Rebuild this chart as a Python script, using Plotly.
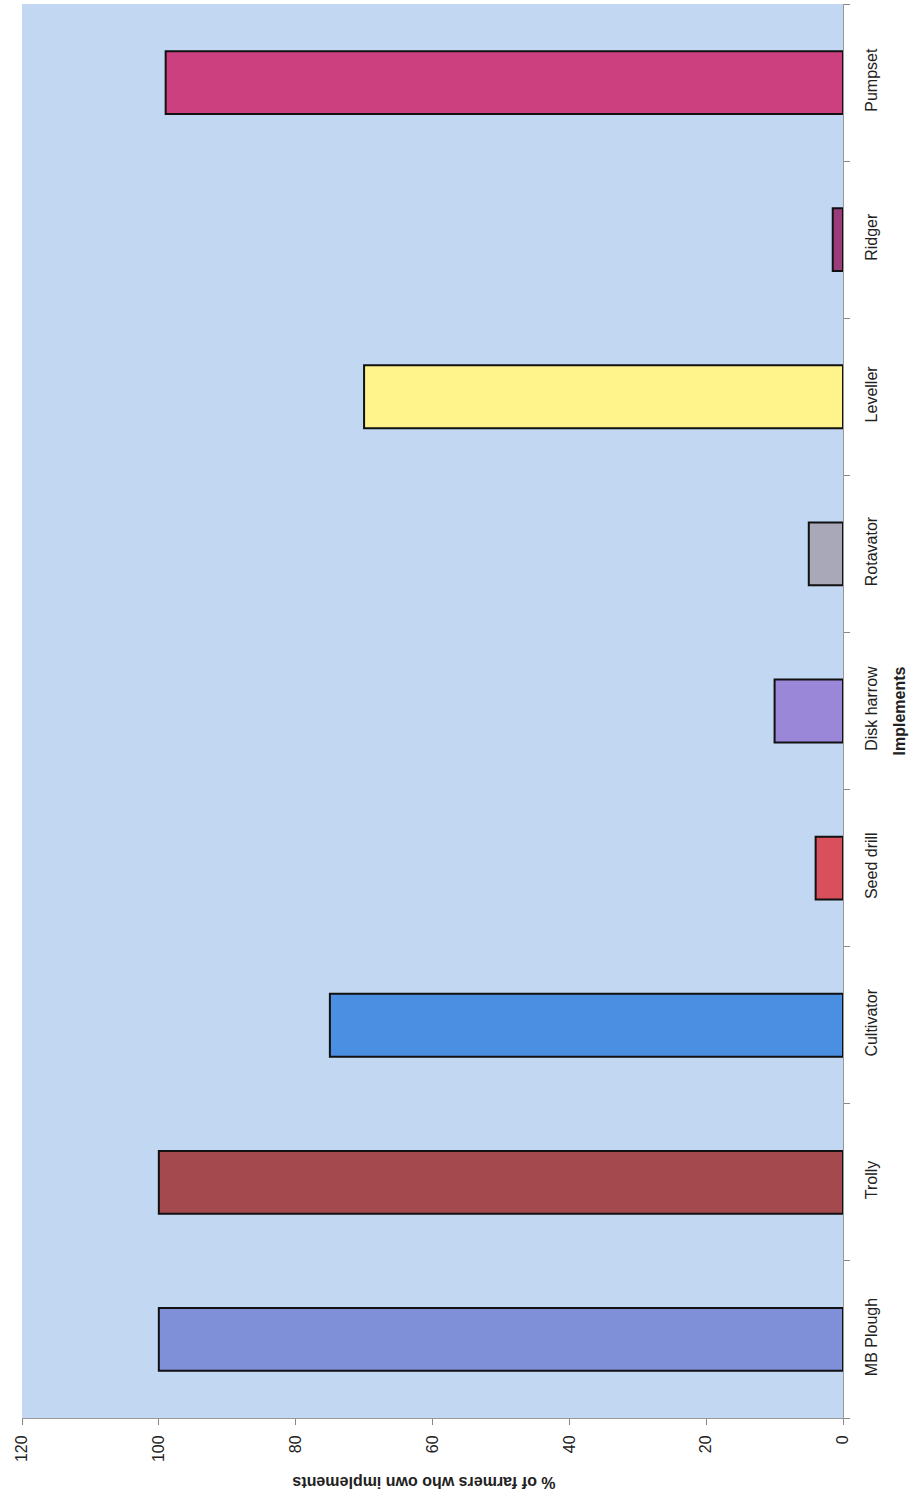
import plotly.graph_objects as go

# Implement ownership among surveyed farmers
implements = ["MB Plough", "Trolly", "Cultivator", "Seed drill", "Disk harrow",
              "Rotavator", "Leveller", "Ridger", "Pumpset"]
pct_owning = [100, 100, 75, 4, 10, 5, 70, 1.5, 99]
bar_colors = ["#7f8fd8", "#a44a4e", "#4a8fe2", "#d9505c", "#9a87d8",
              "#a8a8b8", "#fff38c", "#9a3c7a", "#cd407f"]
value_ticks = [0, 20, 40, 60, 80, 100, 120]

fig = go.Figure(go.Bar(
    y=implements,
    x=pct_owning,
    orientation="h",
    width=0.4,
    marker=dict(color=bar_colors, line=dict(color="#111111", width=2)),
))

font_family = "Liberation Sans, Arial, sans-serif"

fig.update_layout(
    width=917,
    height=1502,
    margin=dict(l=22, r=74, t=4, b=84),
    paper_bgcolor="white",
    plot_bgcolor="#c1d7f2",
    showlegend=False,
    font=dict(family=font_family, size=14, color="#222222"),
    bargap=0.6,
    xaxis=dict(
        range=[120, 0],
        tickvals=value_ticks,
        ticktext=[str(v) for v in value_ticks],
        tickangle=-90,
        ticks="outside",
        ticklen=6,
        tickcolor="#888888",
        showline=True,
        linecolor="#999999",
        linewidth=1,
        showgrid=False,
        zeroline=False,
        tickfont=dict(size=16),
        ticklabelstandoff=4,
    ),
    yaxis=dict(
        side="right",
        categoryorder="array",
        categoryarray=implements,
        tickangle=-90,
        ticks="outside",
        tickson="boundaries",
        ticklen=6,
        tickcolor="#888888",
        showline=True,
        linecolor="#999999",
        linewidth=1,
        showgrid=False,
        tickfont=dict(size=16),
        ticklabelstandoff=14,
        title=dict(text="<b>Implements</b>", font=dict(size=16), standoff=14),
    ),
)

# Value-axis title, drawn upside down beneath the ticks
fig.add_annotation(
    text="<b>% of farmers who own implements</b>",
    xref="paper", yref="paper",
    x=0.49, y=-0.046,
    yanchor="middle",
    showarrow=False,
    textangle=180,
    font=dict(size=16, color="#222222"),
)

fig.write_html("out.html")
